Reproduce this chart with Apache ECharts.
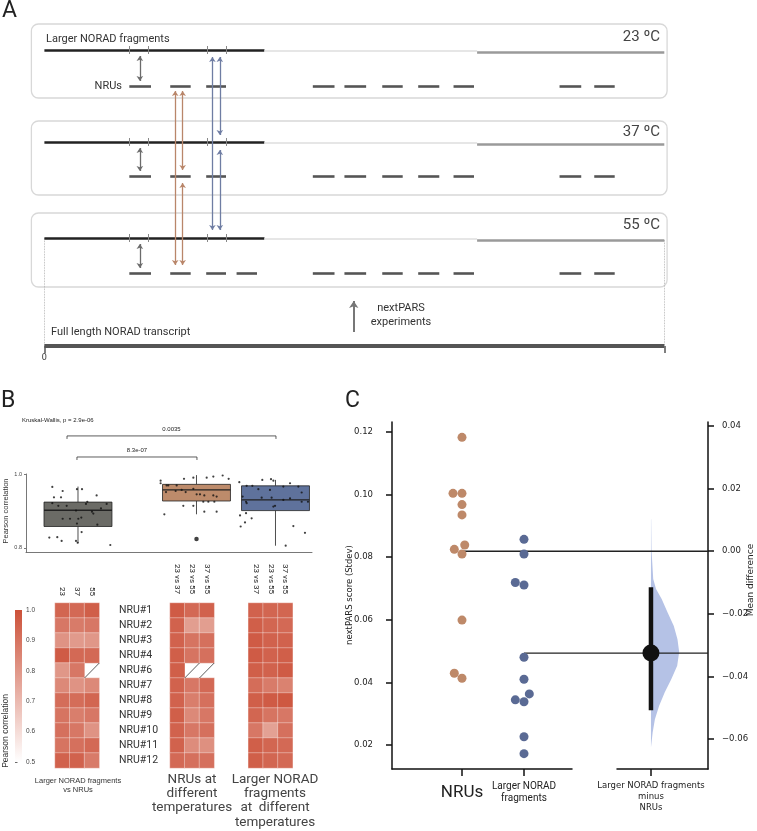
<!DOCTYPE html>
<html><head><meta charset="utf-8">
<script src="https://cdn.jsdelivr.net/npm/echarts@6/dist/echarts.min.js"></script>
<style>html,body{margin:0;padding:0;background:#fff}#c{width:757px;height:831px}</style>
</head><body><div id="c"></div>
<script>
// ---------------- DATA ----------------
// Panel A schematic (positions along the NORAD transcript, 0-100 %)
const temperatures = ['23 ºC', '37 ºC', '55 ºC'];
const segStart = [0, 35.5, 69.8];
const segEnd = [35.5, 69.8, 100];
const fragTicks = [13.7, 16.8, 26.2, 29.3];
const nruStart = [13.7, 20.3, 26.1, 31.0, 43.3, 48.4, 54.5, 60.3, 66.0, 83.1, 88.7];
const nruEnd = [17.2, 23.6, 29.3, 34.3, 46.8, 51.9, 57.8, 63.7, 69.3, 86.6, 92.0];
const nruShown = [[1,1,1,0,1,1,1,1,1,1,1],[1,1,1,0,1,1,1,1,1,1,1],[1,1,1,1,1,1,1,1,1,1,1]];
const grayArrowX = 15.4;
const brownArrowX = [21.1, 22.3];
const blueArrowX = [27.1, 28.3];
const nextParsX = 49.9;

// Panel B boxplot
const groupPos = [1, 2.5, 3.5];
const boxLow = [0.813, 0.891, 0.806];
const boxQ1 = [0.858, 0.927, 0.901];
const boxMedian = [0.902, 0.957, 0.930];
const boxQ3 = [0.924, 0.972, 0.968];
const boxHigh = [0.966, 0.997, 0.984];
const boxOutliers = [[2.5, 0.824]];
const jitterGray = [[0.675,0.965],[0.806,0.954],[0.696,0.937],[0.785,0.937],[0.675,0.921],[0.751,0.914],[0.857,0.914],[0.987,0.959],[1.051,0.959],[1.236,0.942],[1.118,0.925],[1.101,0.919],[1.363,0.919],[0.975,0.901],[1.177,0.898],[1.194,0.893],[1.291,0.907],[0.806,0.879],[0.899,0.879],[1.004,0.879],[1.042,0.882],[0.987,0.866],[1.245,0.863],[1.046,0.843],[0.738,0.829],[0.637,0.828],[0.793,0.819],[0.975,0.819],[0.996,0.814],[1.409,0.808]];
const jitterBrown = [[2.046,0.982],[2.046,0.975],[2.122,0.969],[2.143,0.969],[2.249,0.969],[2.342,0.987],[2.460,0.990],[2.629,0.990],[2.713,0.993],[2.831,0.996],[2.907,0.987],[2.114,0.951],[2.236,0.954],[2.363,0.951],[2.460,0.960],[2.502,0.945],[2.544,0.945],[2.599,0.942],[2.713,0.942],[2.755,0.939],[2.333,0.914],[2.460,0.914],[2.586,0.925],[2.650,0.925],[2.726,0.925],[2.599,0.898],[2.755,0.898],[2.093,0.891],[2.312,0.957]];
const jitterBlue = [[3.042,0.978],[3.135,0.968],[3.207,0.968],[3.333,0.984],[3.443,0.986],[3.473,0.982],[3.599,0.966],[3.684,0.975],[3.789,0.966],[3.283,0.959],[3.430,0.957],[3.084,0.939],[3.127,0.925],[3.135,0.921],[3.325,0.936],[3.451,0.936],[3.473,0.912],[3.494,0.914],[3.599,0.930],[3.684,0.934],[3.831,0.950],[3.831,0.925],[3.911,0.925],[3.051,0.888],[3.127,0.894],[3.198,0.880],[3.059,0.858],[3.114,0.869],[3.726,0.859],[3.873,0.841],[3.629,0.806]];
const bracketStart = [0.861, 0.987];
const bracketEnd = [3.506, 2.506];
const bracketY = [1.103, 1.046];
const bracketLabels = ['0.0035', '8.3e-07'];

// Panel B heatmaps
const nruLabels = ['NRU#1','NRU#2','NRU#3','NRU#4','NRU#6','NRU#7','NRU#8','NRU#9','NRU#10','NRU#11','NRU#12'];
const fragVsNruCols = ['23', '37', '55'];
const tempPairCols = ['23 vs 37', '23 vs 55', '37 vs 55'];
const fragVsNru = [[0.94,0.93,0.96],[0.89,0.88,0.89],[0.81,0.79,0.80],[0.97,0.93,0.93],[0.80,0.89,null],[0.84,0.81,0.84],[0.92,0.92,0.94],[0.90,0.87,0.89],[0.91,0.89,0.81],[0.90,0.91,0.93],[0.95,0.95,0.88]];
const nruTemps = [[0.97,0.93,0.95],[0.95,0.78,0.78],[0.95,0.90,0.91],[0.96,0.90,0.91],[0.96,null,null],[0.95,0.89,0.93],[0.95,0.87,0.91],[0.96,0.84,0.89],[0.95,0.89,0.91],[0.95,0.83,0.82],[0.93,0.91,0.91]];
const fragTemps = [[0.95,0.94,0.94],[0.96,0.94,0.93],[0.97,0.95,0.95],[0.97,0.95,0.96],[0.96,0.95,0.97],[0.92,0.88,0.86],[0.96,0.97,0.98],[0.94,0.90,0.89],[0.89,0.77,0.91],[0.96,0.94,0.93],[0.96,0.94,0.93]];
const colorbarMin = 0.5, colorbarMax = 1.0;

// Panel C estimation plot
const nruScores = [0.1183,0.1004,0.1004,0.0968,0.0935,0.0839,0.0825,0.0810,0.0599,0.0429,0.0413];
const nruSwarm = [0,-0.145,0,0,0,0.044,-0.124,0,0,-0.124,0];
const fragScores = [0.0857,0.0810,0.0719,0.0711,0.0480,0.0410,0.0363,0.0344,0.0338,0.0226,0.0172];
const fragSwarm = [0,0,-0.14,0,0,0,0.086,-0.14,0,0,0];
const diffCI = [-0.0508, -0.0115];
const violinDiff = [0.0102,0.0006,-0.0089,-0.0121,-0.0153,-0.0196,-0.0239,-0.0281,-0.0322,-0.0366,-0.0409,-0.0451,-0.0494,-0.0537,-0.0579,-0.0627];
const violinDensity = [0.7,1.8,8,18,38,59,81,94,100,93,72,49,29,14,6,0];
const leftTicks = [0.02,0.04,0.06,0.08,0.10,0.12];
const rightTicks = [-0.06,-0.04,-0.02,0.00,0.02,0.04];

// ---------------- LAYOUT / STYLE ----------------
const LA = {boxTop:[24,121,213], boxH:74, boxL:-2.1, boxR:100.45, fragY:[50,142,238], segDy:[0,1,2], nruY:[86,176,273], bottomY:346, arrowFrom:332, arrowTo:301};
const segStyle = [{color:'#222', width:2.6},{color:'#e6e6e6', width:2},{color:'#9a9a9a', width:2.6}];
const boxColors = ['#6b6b66', '#bd8b6b', '#5f729c'];
const heatLow = '#ffffff', heatHigh = '#cc5139';
const cX = {min:-0.129, max:4.968, nru:1, frag:2, diff:4.048, gapL:2.774, gapR:3.5};
const cY = {min:0.0123, max:0.1232};
const brown = '#be8969', blue = '#5a6a94';

const mean = a => a.reduce((s, v) => s + v, 0) / a.length;
const meanN = mean(nruScores), meanF = mean(fragScores), meanD = meanF - meanN;

const chart = echarts.init(document.getElementById('c'), null, {renderer: 'canvas'});

function seg(x1, y1, x2, y2, color, width, type) {
  return {coords: [[x1, y1], [x2, y2]], lineStyle: {color: color, width: width, type: type || 'solid', opacity: 1}};
}
function linesA(data, extra) {
  return Object.assign({type: 'lines', coordinateSystem: 'cartesian2d', xAxisIndex: 0, yAxisIndex: 0, silent: true,
    symbol: 'none', lineStyle: {opacity: 1}, data: data, z: 3}, extra || {});
}

const series = [];
// ---- Panel A
series.push({type: 'custom', xAxisIndex: 0, yAxisIndex: 0, clip: false, silent: true, z: 1,
  data: temperatures.map((t, i) => [i]),
  renderItem: (p, api) => {
    const i = api.value(0);
    const a = api.coord([LA.boxL, LA.boxTop[i]]), b = api.coord([LA.boxR, LA.boxTop[i] + LA.boxH]);
    return {type: 'rect', shape: {x: a[0], y: a[1], width: b[0] - a[0], height: b[1] - a[1], r: 7},
      style: {fill: 'none', stroke: '#d8d8d8', lineWidth: 1.3}};
  }});
const fragLines = [], tickLines = [], dashLines = [], grayArrows = [];
temperatures.forEach((t, i) => {
  segStart.forEach((s, k) => fragLines.push(seg(s, LA.fragY[i] + LA.segDy[k], segEnd[k], LA.fragY[i] + LA.segDy[k], segStyle[k].color, segStyle[k].width)));
  fragTicks.forEach(x => tickLines.push(seg(x, LA.fragY[i] - 4, x, LA.fragY[i] + 4, '#888', 1)));
  nruStart.forEach((s, k) => { if (nruShown[i][k]) dashLines.push(seg(s, LA.nruY[i], nruEnd[k], LA.nruY[i], '#555', 2.6)); });
  grayArrows.push(seg(grayArrowX, LA.fragY[i] + 6, grayArrowX, LA.nruY[i] - 5, '#6b6b6b', 1.3));
});
series.push(linesA(fragLines));
series.push(linesA(tickLines, {z: 4}));
series.push(linesA(dashLines));
const arrowOpts = {symbol: ['arrow', 'arrow'], symbolSize: 5, z: 5};
series.push(linesA(grayArrows, arrowOpts));
series.push(linesA([
  seg(brownArrowX[0], LA.nruY[0] + 5, brownArrowX[0], LA.nruY[2] - 8, '#b9866a', 1.3),
  seg(brownArrowX[1], LA.nruY[0] + 5, brownArrowX[1], LA.nruY[1] - 6, '#b9866a', 1.3),
  seg(brownArrowX[1], LA.nruY[1] + 7, brownArrowX[1], LA.nruY[2] - 8, '#b9866a', 1.3)
], arrowOpts));
series.push(linesA([
  seg(blueArrowX[0], LA.fragY[0] + 7, blueArrowX[0], LA.fragY[2] - 8, '#6f7da3', 1.3),
  seg(blueArrowX[1], LA.fragY[0] + 7, blueArrowX[1], LA.fragY[1] - 7, '#6f7da3', 1.3),
  seg(blueArrowX[1], LA.fragY[1] + 8, blueArrowX[1], LA.fragY[2] - 8, '#6f7da3', 1.3)
], arrowOpts));
series.push(linesA([
  seg(0, LA.fragY[2], 0, LA.bottomY, '#aaa', 0.8, 'dotted'),
  seg(100, LA.fragY[2] + 2, 100, LA.bottomY, '#aaa', 0.8, 'dotted')
], {z: 2}));
series.push(linesA([
  seg(0, LA.bottomY, 100, LA.bottomY, '#555', 4),
  seg(0, LA.bottomY, 0, LA.bottomY + 7, '#555', 1.5),
  seg(100, LA.bottomY, 100, LA.bottomY + 7, '#555', 1.5)
]));
series.push(linesA([seg(nextParsX, LA.arrowFrom, nextParsX, LA.arrowTo, '#777', 2)], {symbol: ['none', 'arrow'], symbolSize: 7}));

// ---- Panel B boxplot
series.push({type: 'custom', xAxisIndex: 1, yAxisIndex: 1, silent: true, z: 2,
  data: groupPos.map((x, i) => [x, boxLow[i], boxQ1[i], boxMedian[i], boxQ3[i], boxHigh[i]]),
  renderItem: (p, api) => {
    const x = api.value(0), hw = 0.43, i = p.dataIndex;
    const c = v => api.coord([x, v]);
    const tl = api.coord([x - hw, api.value(4)]), br = api.coord([x + hw, api.value(2)]);
    const m1 = api.coord([x - hw, api.value(3)]), m2 = api.coord([x + hw, api.value(3)]);
    const st = {stroke: '#222', lineWidth: 0.8};
    return {type: 'group', children: [
      {type: 'line', shape: {x1: c(api.value(5))[0], y1: c(api.value(5))[1], x2: c(api.value(4))[0], y2: c(api.value(4))[1]}, style: st},
      {type: 'line', shape: {x1: c(api.value(2))[0], y1: c(api.value(2))[1], x2: c(api.value(1))[0], y2: c(api.value(1))[1]}, style: st},
      {type: 'rect', shape: {x: tl[0], y: tl[1], width: br[0] - tl[0], height: br[1] - tl[1]}, style: {fill: boxColors[i], stroke: '#222', lineWidth: 0.8}},
      {type: 'line', shape: {x1: m1[0], y1: m1[1], x2: m2[0], y2: m2[1]}, style: {stroke: '#222', lineWidth: 1.3}}
    ]};
  }});
[jitterGray, jitterBrown, jitterBlue].forEach(d => series.push({type: 'scatter', xAxisIndex: 1, yAxisIndex: 1, silent: true, z: 5,
  data: d, symbolSize: 2.2, itemStyle: {color: '#111'}}));
series.push({type: 'scatter', xAxisIndex: 1, yAxisIndex: 1, silent: true, z: 5, data: boxOutliers, symbolSize: 4.5, itemStyle: {color: '#111'}});
series.push({type: 'custom', xAxisIndex: 1, yAxisIndex: 1, clip: false, silent: true,
  data: bracketLabels.map((l, i) => [bracketStart[i], bracketEnd[i], bracketY[i]]),
  renderItem: (p, api) => {
    const a = api.coord([api.value(0), api.value(2)]), b = api.coord([api.value(1), api.value(2)]);
    return {type: 'group', children: [
      {type: 'polyline', shape: {points: [[a[0], a[1] + 3], a, b, [b[0], b[1] + 3]]}, style: {stroke: '#333', lineWidth: 0.8, fill: 'none'}},
      {type: 'text', x: (a[0] + b[0]) / 2, y: a[1] - 6.5, style: {text: bracketLabels[p.dataIndex], fill: '#222', font: '6px "Liberation Sans"', textAlign: 'center', textVerticalAlign: 'middle'}}
    ]};
  }});

// ---- Colorbar
series.push({type: 'custom', xAxisIndex: 2, yAxisIndex: 2, silent: true, data: [[0, colorbarMin, colorbarMax]],
  renderItem: (p, api) => {
    const a = api.coord([0, api.value(2)]), b = api.coord([1, api.value(1)]);
    return {type: 'rect', shape: {x: a[0], y: a[1], width: b[0] - a[0], height: b[1] - a[1]},
      style: {fill: new echarts.graphic.LinearGradient(0, 0, 0, 1, [{offset: 0, color: heatHigh}, {offset: 1, color: heatLow}])}};
  }});

// ---- Heatmaps
const heatIdx = [];
function heatData(m) { const d = []; m.forEach((row, r) => row.forEach((v, c) => d.push([c, r, v == null ? '-' : v]))); return d; }
function naData(m) { const d = []; m.forEach((row, r) => row.forEach((v, c) => { if (v == null) d.push([c, r]); })); return d; }
[fragVsNru, nruTemps, fragTemps].forEach((m, k) => {
  heatIdx.push(series.length);
  series.push({type: 'heatmap', xAxisIndex: 3 + k, yAxisIndex: 3 + k, silent: true, data: heatData(m),
    itemStyle: {borderColor: 'rgba(255,255,255,0.35)', borderWidth: 1}, emphasis: {disabled: true}});
  series.push({type: 'custom', xAxisIndex: 3 + k, yAxisIndex: 3 + k, silent: true, z: 5, data: naData(m),
    renderItem: (p, api) => {
      const c = api.coord([api.value(0), api.value(1)]), s = api.size([1, 1]);
      return {type: 'line', shape: {x1: c[0] - s[0] / 2, y1: c[1] + s[1] / 2, x2: c[0] + s[0] / 2, y2: c[1] - s[1] / 2}, style: {stroke: '#333', lineWidth: 0.8}};
    }});
});

// ---- Panel C
series.push({type: 'custom', xAxisIndex: 6, yAxisIndex: 7, clip: false, silent: true, z: 1, data: [[cX.diff]],
  renderItem: (p, api) => {
    const x = api.value(0);
    const pts = [api.coord([x, violinDiff[0]])];
    violinDiff.forEach((d, i) => pts.push(api.coord([x + violinDensity[i] / 100 * 0.455, d])));
    pts.push(api.coord([x, violinDiff[violinDiff.length - 1]]));
    return {type: 'polygon', shape: {points: pts}, style: {fill: '#b5c2e6'}};
  }});
series.push({type: 'line', xAxisIndex: 6, yAxisIndex: 6, silent: true, symbol: 'none', z: 2,
  data: [[cX.nru, meanN], [cX.max, meanN]], lineStyle: {color: '#222', width: 1.3}});
series.push({type: 'line', xAxisIndex: 6, yAxisIndex: 6, silent: true, symbol: 'none', z: 2,
  data: [[cX.frag, meanF], [cX.max, meanF]], lineStyle: {color: '#222', width: 1.3}});
series.push({type: 'scatter', xAxisIndex: 6, yAxisIndex: 6, silent: true, z: 3, symbolSize: 9,
  data: nruScores.map((v, i) => [cX.nru + nruSwarm[i], v]), itemStyle: {color: brown, opacity: 1}});
series.push({type: 'scatter', xAxisIndex: 6, yAxisIndex: 6, silent: true, z: 3, symbolSize: 9,
  data: fragScores.map((v, i) => [cX.frag + fragSwarm[i], v]), itemStyle: {color: blue, opacity: 1}});
series.push({type: 'line', xAxisIndex: 6, yAxisIndex: 7, silent: true, symbol: 'none', z: 4,
  data: [[cX.diff, diffCI[0]], [cX.diff, diffCI[1]]], lineStyle: {color: '#111', width: 4.5}});
series.push({type: 'scatter', xAxisIndex: 6, yAxisIndex: 7, silent: true, z: 5, symbolSize: 17,
  data: [[cX.diff, meanD]], itemStyle: {color: '#111', opacity: 1}});

// ---------------- AXES ----------------
const noAxis = {show: false};
const hid = (g, extra) => Object.assign({gridIndex: g, type: 'value', show: false, min: 0, max: 1}, extra || {});
const pxPerA = 6.199, aLeft = 44.4;
const fmtMinus = v => (v < 0 ? '\u2212' : '') + Math.abs(v).toFixed(2);
const cAxisLine = {show: true, onZero: false, lineStyle: {color: '#111', width: 1.5}};
const xAxis = [
  hid(0, {min: -aLeft / pxPerA, max: (757 - aLeft) / pxPerA}),
  {gridIndex: 1, type: 'value', min: 0.342, max: 3.962, axisLine: {show: true, onZero: false, lineStyle: {color: '#555', width: 0.8}}, axisTick: noAxis, axisLabel: noAxis, splitLine: noAxis},
  hid(2),
  {gridIndex: 3, type: 'category', data: fragVsNruCols, position: 'top', axisLine: noAxis, axisTick: noAxis, splitLine: noAxis,
    axisLabel: {rotate: 90, interval: 0, fontSize: 8, margin: 7, color: '#222', fontFamily: 'Roboto'}},
  {gridIndex: 4, type: 'category', data: tempPairCols, position: 'top', axisLine: noAxis, axisTick: noAxis, splitLine: noAxis,
    axisLabel: {rotate: 90, interval: 0, fontSize: 8, margin: 9, color: '#222', fontFamily: 'Roboto'}},
  {gridIndex: 5, type: 'category', data: tempPairCols, position: 'top', axisLine: noAxis, axisTick: noAxis, splitLine: noAxis,
    axisLabel: {rotate: 90, interval: 0, fontSize: 8, margin: 9, color: '#222', fontFamily: 'Roboto'}},
  hid(6, {min: cX.min, max: cX.max}),
  {gridIndex: 7, type: 'value', min: cX.min, max: cX.gapL, axisLine: cAxisLine, splitLine: noAxis, axisLabel: noAxis,
    axisTick: {show: true, customValues: [cX.nru, cX.frag], length: 7, lineStyle: {color: '#111', width: 1.5}}},
  {gridIndex: 8, type: 'value', min: cX.gapR, max: cX.max, axisLine: cAxisLine, splitLine: noAxis, axisLabel: noAxis,
    axisTick: {show: true, customValues: [cX.diff], length: 7, lineStyle: {color: '#111', width: 1.5}}}
];
const yAxis = [
  hid(0, {min: 0, max: 370, inverse: true}),
  {gridIndex: 1, type: 'value', min: 0.789, max: 1.0, axisLine: {show: true, onZero: false, lineStyle: {color: '#555', width: 0.8}}, splitLine: noAxis,
    axisTick: {show: true, customValues: [0.8, 1.0], length: 2, lineStyle: {color: '#555', width: 0.8}},
    axisLabel: {customValues: [0.8, 1.0], fontSize: 5.5, color: '#444', margin: 4, fontFamily: 'Liberation Sans', formatter: v => v.toFixed(1)}},
  {gridIndex: 2, type: 'value', min: colorbarMin, max: colorbarMax, interval: 0.1, position: 'right', axisLine: {show: false}, splitLine: noAxis,
    axisTick: {show: true, length: 2.5, lineStyle: {color: '#444', width: 0.8}},
    axisLabel: {fontSize: 6.5, color: '#444', margin: 4, fontFamily: 'Liberation Sans', formatter: v => v.toFixed(1)}},
  {gridIndex: 3, type: 'category', data: nruLabels, inverse: true, show: false},
  {gridIndex: 4, type: 'category', data: nruLabels, inverse: true, axisLine: noAxis, axisTick: noAxis, splitLine: noAxis,
    axisLabel: {align: 'left', margin: 51, fontSize: 10.5, color: '#333', fontFamily: 'Roboto', interval: 0}},
  {gridIndex: 5, type: 'category', data: nruLabels, inverse: true, show: false},
  {gridIndex: 6, type: 'value', min: cY.min, max: cY.max, position: 'left', axisLine: cAxisLine, splitLine: noAxis,
    axisTick: {show: true, customValues: leftTicks, length: 6, lineStyle: {color: '#111', width: 1.5}},
    axisLabel: {customValues: leftTicks, fontSize: 8.5, margin: 19, color: '#222', fontFamily: 'DejaVu Sans', formatter: v => v.toFixed(2)}},
  {gridIndex: 6, type: 'value', min: cY.min - meanN, max: cY.max - meanN, position: 'right', axisLine: cAxisLine, splitLine: noAxis,
    axisTick: {show: true, customValues: rightTicks, length: 6, lineStyle: {color: '#111', width: 1.5}},
    axisLabel: {customValues: rightTicks, fontSize: 8.5, margin: 14, color: '#222', fontFamily: 'DejaVu Sans', formatter: fmtMinus}},
  hid(7),
  hid(8)
];
const grid = [
  {left: 0, top: 0, width: 757, height: 370},
  {left: 26, top: 474, width: 286, height: 78},
  {left: 15, top: 610, width: 7, height: 152},
  {left: 55, top: 603, width: 44.3, height: 165},
  {left: 170, top: 603, width: 44.2, height: 165},
  {left: 248.3, top: 603, width: 44.4, height: 165},
  {left: 392, top: 422, width: 316, height: 347},
  {left: 392, top: 422, width: 180, height: 347},
  {left: 617, top: 422, width: 91, height: 347}
];

// ---------------- TEXT ----------------
function T(text, x, y, size, o) {
  o = o || {};
  return {type: 'text', x: x, y: y, rotation: o.rot || 0, z: 100, silent: true,
    style: {text: text, fill: o.color || '#333', font: (o.weight || 'normal') + ' ' + size + 'px ' + (o.family || 'Roboto'),
      textAlign: o.align || 'left', textVerticalAlign: 'middle'}};
}
const R = Math.PI / 2;
const texts = [
  T('A', 2, 11, 23, {color: '#222'}),
  T('Larger NORAD fragments', 46, 39, 11),
  T('NRUs', 122, 86, 11, {align: 'right'}),
  T(temperatures[0], 660, 37, 15, {align: 'right', color: '#444'}),
  T(temperatures[1], 660, 132, 15, {align: 'right', color: '#444'}),
  T(temperatures[2], 660, 225, 15, {align: 'right', color: '#444'}),
  T('Full length NORAD transcript', 51, 332, 11),
  T('nextPARS', 401, 308, 11, {align: 'center'}),
  T('experiments', 401, 322, 11, {align: 'center'}),
  T('0', 44.4, 358, 9, {align: 'center'}),
  T('B', 1, 401, 23, {color: '#222'}),
  T('Kruskal-Wallis, p = 2.9e-06', 22, 420, 6, {family: '"Liberation Sans"', color: '#222'}),
  T('Pearson correlation', 6, 511, 7.5, {rot: R, align: 'center', family: '"Liberation Sans"'}),
  T('Pearson correlation', 6, 731, 8.5, {rot: R, align: 'center', family: '"Liberation Sans"'}),
  T('Larger NORAD fragments', 78, 781, 7.5, {align: 'center', family: '"Liberation Sans"'}),
  T('vs NRUs', 78, 790, 7.5, {align: 'center', family: '"Liberation Sans"'}),
  T('NRUs at', 192, 780, 13.5, {align: 'center', color: '#444'}),
  T('different', 192, 794, 13.5, {align: 'center', color: '#444'}),
  T('temperatures', 192, 808, 13.5, {align: 'center', color: '#444'}),
  T('Larger NORAD', 275, 780, 13.5, {align: 'center', color: '#444'}),
  T('fragments', 275, 794, 13.5, {align: 'center', color: '#444'}),
  T('at  different', 275, 808, 13.5, {align: 'center', color: '#444'}),
  T('temperatures', 275, 823, 13.5, {align: 'center', color: '#444'}),
  T('C', 345, 401, 23, {color: '#222'}),
  T('nextPARS score (Stdev)', 350, 595, 8.5, {rot: R, align: 'center', family: '"DejaVu Sans"', color: '#222'}),
  T('Mean difference', 751, 580, 9, {rot: R, align: 'center', family: '"DejaVu Sans"', color: '#222'}),
  T('NRUs', 462, 793, 17, {align: 'center', color: '#222'}),
  T('Larger NORAD', 524, 786, 10, {align: 'center', color: '#222'}),
  T('fragments', 524, 798, 10, {align: 'center', color: '#222'}),
  T('Larger NORAD fragments', 651, 786, 8.5, {align: 'center', family: '"DejaVu Sans"', color: '#222'}),
  T('minus', 651, 797, 8.5, {align: 'center', family: '"DejaVu Sans"', color: '#222'}),
  T('NRUs', 651, 808, 8.5, {align: 'center', family: '"DejaVu Sans"', color: '#222'})
];

chart.setOption({
  animation: false,
  backgroundColor: '#ffffff',
  textStyle: {fontFamily: 'Roboto'},
  grid: grid,
  xAxis: xAxis,
  yAxis: yAxis,
  visualMap: [{type: 'continuous', show: false, min: colorbarMin, max: colorbarMax, dimension: 2, seriesIndex: heatIdx,
    inRange: {color: [heatLow, heatHigh]}}],
  graphic: {elements: texts},
  series: series
});
</script></body></html>
